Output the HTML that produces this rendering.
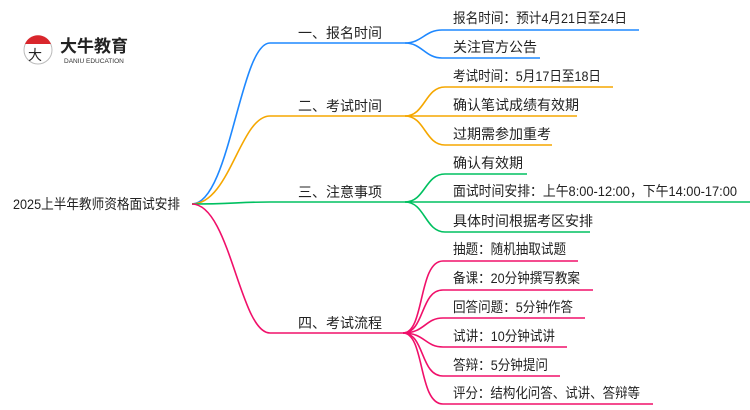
<!DOCTYPE html>
<html><head><meta charset="utf-8"><style>
html,body{margin:0;padding:0;background:#fff;width:750px;height:410px;overflow:hidden}
svg text{font-family:"Liberation Sans","Noto Sans CJK SC",sans-serif;fill:#222}
</style></head><body>
<svg width="750" height="410" viewBox="0 0 750 410" xmlns="http://www.w3.org/2000/svg" fill="none" stroke-width="1.6">
<circle cx="38" cy="50" r="14" fill="#fff" stroke="#bbb" stroke-width="1"/>
<path d="M25,44 A14,14 0 0 1 51,44 Z" fill="#d9262c" stroke="none"/>
<text x="28" y="60" font-size="14" style="fill:#222">大</text>
<text x="60" y="52" font-size="17" font-weight="bold" style="fill:#222">大牛教育</text>
<text x="64" y="63" font-size="6.5" style="fill:#333">DANIU EDUCATION</text>
<text x="13" y="209" font-size="14" textLength="167" lengthAdjust="spacingAndGlyphs">2025上半年教师资格面试安排</text>
<path d="M192,204 C230,204 240,43 270,43 L405,43" stroke="#1e88ff"/>
<path d="M192,204 C230,204 240,116 270,116 L405,116" stroke="#f5a700"/>
<path d="M192,204 C230,204 240,202 270,202 L405,202" stroke="#00c060"/>
<path d="M192,204 C230,204 240,333 270,333 L403,333" stroke="#f0106a"/>
<text x="298" y="38" font-size="14">一、报名时间</text>
<text x="298" y="111" font-size="14">二、考试时间</text>
<text x="298" y="197" font-size="14">三、注意事项</text>
<text x="298" y="328" font-size="14">四、考试流程</text>
<g stroke="#1e88ff">
<path d="M405,43 C422,43 425,30 442,30 L639,30"/>
<path d="M405,43 C422,43 425,58 442,58 L540,58"/>
</g>
<g stroke="#f5a700">
<path d="M405,116 C425,116 425,87 445,87 L613,87"/>
<path d="M405,116 L577,116"/>
<path d="M405,116 C425,116 425,145 445,145 L552,145"/>
</g>
<g stroke="#00c060">
<path d="M405,202 C425,202 425,174 445,174 L527,174"/>
<path d="M405,202 L750,202"/>
<path d="M405,202 C425,202 425,232 445,232 L590,232"/>
</g>
<g stroke="#f0106a">
<path d="M403,333 C425,333 418,261 443,261 L578,261"/>
<path d="M403,333 C425,333 420,290 443,290 L593,290"/>
<path d="M403,333 C425,333 425,318 443,318 L585,318"/>
<path d="M403,333 C425,333 425,347 443,347 L567,347"/>
<path d="M403,333 C425,333 420,376 443,376 L560,376"/>
<path d="M403,333 C425,333 418,404 443,404 L653,404"/>
</g>
<g font-size="14">
<text x="453" y="23" textLength="174" lengthAdjust="spacingAndGlyphs">报名时间：预计4月21日至24日</text>
<text x="453" y="52">关注官方公告</text>
<text x="453" y="81" textLength="148" lengthAdjust="spacingAndGlyphs">考试时间：5月17日至18日</text>
<text x="453" y="110">确认笔试成绩有效期</text>
<text x="453" y="139">过期需参加重考</text>
<text x="453" y="168">确认有效期</text>
<text x="453" y="196" textLength="284" lengthAdjust="spacingAndGlyphs">面试时间安排：上午8:00-12:00，下午14:00-17:00</text>
<text x="453" y="226">具体时间根据考区安排</text>
<text x="453" y="254" textLength="113" lengthAdjust="spacingAndGlyphs">抽题：随机抽取试题</text>
<text x="453" y="283" textLength="127" lengthAdjust="spacingAndGlyphs">备课：20分钟撰写教案</text>
<text x="453" y="312" textLength="120" lengthAdjust="spacingAndGlyphs">回答问题：5分钟作答</text>
<text x="453" y="341" textLength="102" lengthAdjust="spacingAndGlyphs">试讲：10分钟试讲</text>
<text x="453" y="370" textLength="95" lengthAdjust="spacingAndGlyphs">答辩：5分钟提问</text>
<text x="453" y="398" textLength="187" lengthAdjust="spacingAndGlyphs">评分：结构化问答、试讲、答辩等</text>
</g>
</svg>
</body></html>
